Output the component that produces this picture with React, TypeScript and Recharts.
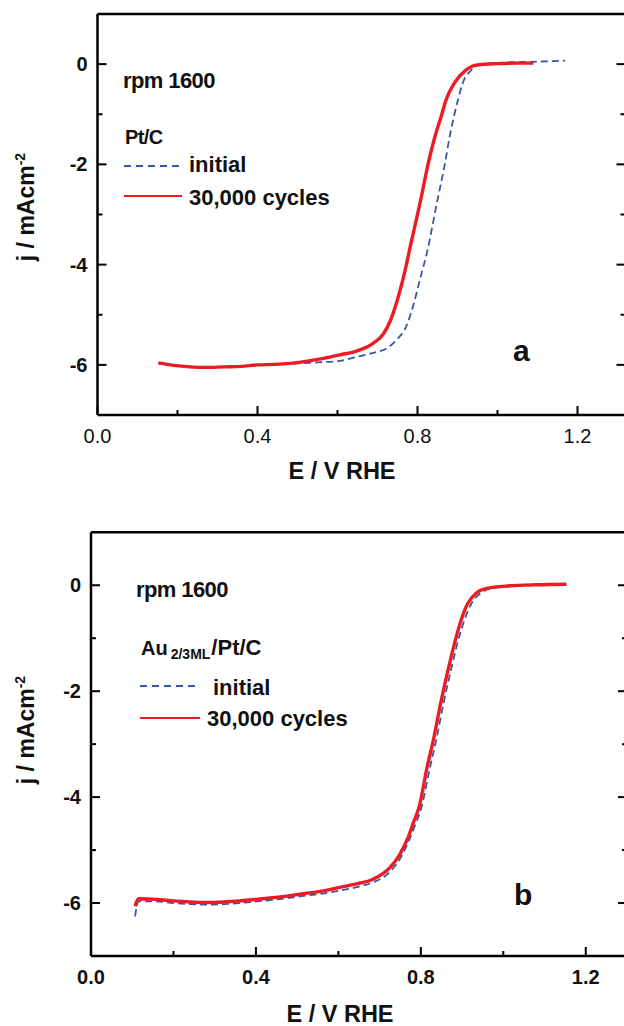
import React from 'react';
import { LineChart, Line, XAxis, YAxis, Customized } from 'recharts';

// panel a: Pt/C
const aInitialE = [0.16, 0.2, 0.25, 0.3, 0.35, 0.4, 0.45, 0.5, 0.55, 0.606, 0.649, 0.689, 0.723, 0.748, 0.773, 0.79, 0.806, 0.823, 0.85, 0.867, 0.882, 0.901, 0.913, 0.934, 0.955, 1.0, 1.05, 1.1, 1.169];
const aInitialJ = [-5.98, -6.02, -6.04, -6.04, -6.03, -6.01, -5.99, -5.97, -5.95, -5.92, -5.84, -5.76, -5.67, -5.5, -5.21, -4.8, -4.3, -3.78, -2.71, -2.05, -1.38, -0.72, -0.38, -0.12, -0.02, 0.02, 0.04, 0.05, 0.07];
const aCycledE = [0.152, 0.19, 0.231, 0.27, 0.314, 0.36, 0.398, 0.44, 0.481, 0.52, 0.565, 0.606, 0.649, 0.689, 0.715, 0.731, 0.748, 0.765, 0.783, 0.808, 0.825, 0.846, 0.859, 0.871, 0.892, 0.921, 0.946, 1.0, 1.05, 1.09];
const aCycledJ = [-5.96, -6.01, -6.04, -6.05, -6.04, -6.03, -6.0, -5.99, -5.97, -5.93, -5.87, -5.8, -5.72, -5.57, -5.38, -5.14, -4.75, -4.25, -3.6, -2.71, -2.05, -1.38, -1.05, -0.72, -0.38, -0.12, -0.02, 0.01, 0.02, 0.02];

// panel b: Au2/3ML/Pt/C
const bInitialE = [0.107, 0.115, 0.159, 0.2, 0.24, 0.28, 0.321, 0.36, 0.402, 0.44, 0.482, 0.52, 0.563, 0.6, 0.644, 0.684, 0.725, 0.749, 0.769, 0.785, 0.802, 0.821, 0.839, 0.855, 0.873, 0.893, 0.906, 0.923, 0.945, 0.97, 1.02, 1.08, 1.153];
const bInitialJ = [-6.25, -5.97, -5.97, -6.0, -6.02, -6.03, -6.02, -6.0, -5.97, -5.94, -5.9, -5.86, -5.82, -5.77, -5.7, -5.61, -5.41, -5.17, -4.86, -4.55, -4.18, -3.48, -2.86, -2.23, -1.6, -0.97, -0.65, -0.34, -0.15, -0.06, -0.02, 0.0, 0.01];
const bCycledE = [0.107, 0.115, 0.159, 0.2, 0.24, 0.28, 0.321, 0.36, 0.402, 0.44, 0.482, 0.52, 0.563, 0.6, 0.644, 0.684, 0.725, 0.749, 0.769, 0.782, 0.796, 0.814, 0.832, 0.848, 0.866, 0.886, 0.898, 0.914, 0.934, 0.959, 1.015, 1.08, 1.153];
const bCycledJ = [-6.06, -5.92, -5.93, -5.96, -5.98, -5.99, -5.98, -5.96, -5.93, -5.9, -5.86, -5.82, -5.77, -5.71, -5.64, -5.55, -5.33, -5.08, -4.76, -4.48, -4.18, -3.48, -2.86, -2.23, -1.6, -0.97, -0.65, -0.34, -0.15, -0.06, -0.01, 0.01, 0.02];

const xTicks = [0, 0.2, 0.4, 0.6, 0.8, 1.0, 1.2];
const xMajor = [0, 0.4, 0.8, 1.2];
const yTicks = [-6, -5, -4, -3, -2, -1, 0];
const yMajor = [-6, -4, -2, 0];

const FONT = '"Liberation Sans", Arial, Helvetica, sans-serif';
const RED = '#ed1c24';
const BLUE = '#3b55a5';

const zip = (e: number[], j: number[]) => e.map((v, i) => ({ e: v, j: j[i] }));

const isMajor = (list: number[], v: number) => list.some((m) => Math.abs(m - v) < 1e-6);

// inward ticks, labels only on majors
function makeTick(side: 'bottom' | 'top' | 'left' | 'right', majors: number[], labelWeight?: string) {
  return (props: any) => {
    const { x, y, payload } = props;
    const v = payload.value;
    const major = isMajor(majors, v);
    const len = major ? 9 : 5;
    let x2 = x, y2 = y;
    if (side === 'bottom') y2 = y - len;
    if (side === 'top') y2 = y + len;
    if (side === 'left') x2 = x + len;
    if (side === 'right') x2 = x - len;
    let label = null;
    if (major && side === 'bottom' && labelWeight) {
      label = (
        <text x={x} y={y + 28} textAnchor="middle" fontFamily={FONT} fontSize={20} fontWeight={labelWeight} fill="#111">
          {v.toFixed(1)}
        </text>
      );
    }
    if (major && side === 'left' && labelWeight) {
      label = (
        <text x={x - 10} y={y + 7} textAnchor="end" fontFamily={FONT} fontSize={20} fontWeight={labelWeight} fill="#111">
          {String(v)}
        </text>
      );
    }
    return (
      <g>
        <line x1={x} y1={y} x2={x2} y2={y2} stroke="#000" strokeWidth={2} />
        {label}
      </g>
    );
  };
}

interface PanelProps {
  initial: { e: number; j: number }[];
  cycled: { e: number; j: number }[];
  xMax: number;
  width: number;
  height: number;
  margin: { top: number; right: number; bottom: number; left: number };
  xLabelWeight: string;
  overlay: React.ReactNode;
}

function Panel(p: PanelProps) {
  const axisLine = { stroke: '#000', strokeWidth: 2.5 };
  return (
    <LineChart width={p.width} height={p.height} margin={p.margin}>
      <XAxis xAxisId="b" type="number" dataKey="e" domain={[0, p.xMax]} allowDataOverflow ticks={xTicks} interval={0}
        height={60} tickSize={0} tickMargin={0} tickLine={false} axisLine={axisLine} tick={makeTick('bottom', xMajor, p.xLabelWeight)} />
      <XAxis xAxisId="t" orientation="top" type="number" domain={[0, p.xMax]} allowDataOverflow ticks={xTicks.slice(1)} interval={0}
        height={4} tickSize={0} tickMargin={0} tickLine={false} axisLine={axisLine} tick={makeTick('top', xMajor)} />
      <YAxis yAxisId="l" type="number" dataKey="j" domain={[-7, 1]} allowDataOverflow ticks={yTicks} interval={0}
        width={60} tickSize={0} tickMargin={0} tickLine={false} axisLine={axisLine} tick={makeTick('left', yMajor, 'bold')} />
      <YAxis yAxisId="r" orientation="right" type="number" domain={[-7, 1]} allowDataOverflow ticks={yTicks} interval={0}
        width={10} tickSize={0} tickMargin={0} tickLine={false} axisLine={axisLine} tick={makeTick('right', yMajor)} />
      <Line xAxisId="b" yAxisId="l" data={p.initial} dataKey="j" type="monotone" stroke={BLUE} strokeWidth={1.8}
        strokeDasharray="7 4" dot={false} isAnimationActive={false} />
      <Line xAxisId="b" yAxisId="l" data={p.cycled} dataKey="j" type="monotone" stroke={RED} strokeWidth={3.4}
        dot={false} isAnimationActive={false} />
      <Customized component={() => <g>{p.overlay}</g>} />
    </LineChart>
  );
}

const txt = { fontFamily: FONT, fontWeight: 'bold' as const, fill: '#111' };

const overlayA = (
  <g>
    <text x={123} y={88} fontSize={22} {...txt} letterSpacing={-0.6}>rpm 1600</text>
    <text x={125} y={144} fontSize={20} {...txt} letterSpacing={-0.6}>Pt/C</text>
    <line x1={124} y1={166} x2={182} y2={166} stroke={BLUE} strokeWidth={1.8} strokeDasharray="7 5" />
    <text x={189} y={172} fontSize={22} {...txt}>initial</text>
    <line x1={124} y1={196} x2={182} y2={196} stroke={RED} strokeWidth={2} />
    <text x={189} y={205} fontSize={22} {...txt}>30,000 cycles</text>
    <text x={513} y={361} fontSize={30} {...txt}>a</text>
    <text x={342} y={479} fontSize={23.5} textAnchor="middle" {...txt}>E / V RHE</text>
    <text transform="translate(34,207) rotate(-90)" fontSize={23} textAnchor="middle" {...txt}>
      j / mAcm<tspan dy={-9} fontSize={14}>-2</tspan>
    </text>
  </g>
);

const overlayB = (
  <g>
    <text x={136} y={97} fontSize={22} {...txt} letterSpacing={-0.6}>rpm 1600</text>
    <text x={141} y={155} fontSize={20} {...txt}>
      Au<tspan dx={3} dy={4} fontSize={14}>2/3ML</tspan><tspan dx={1} dy={-4} fontSize={22}>/Pt/C</tspan>
    </text>
    <line x1={140} y1={186} x2={200} y2={186} stroke={BLUE} strokeWidth={1.8} strokeDasharray="7 5" />
    <text x={213} y={195} fontSize={22} {...txt}>initial</text>
    <line x1={140} y1={218} x2={200} y2={218} stroke={RED} strokeWidth={2} />
    <text x={207} y={226} fontSize={22} {...txt}>30,000 cycles</text>
    <text x={514} y={405} fontSize={30} {...txt}>b</text>
    <text x={340} y={522} fontSize={23.5} textAnchor="middle" {...txt}>E / V RHE</text>
    <text transform="translate(34,230) rotate(-90)" fontSize={23} textAnchor="middle" {...txt}>
      j / mAcm<tspan dy={-9} fontSize={14}>-2</tspan>
    </text>
  </g>
);

export default function App() {
  return (
    <div style={{ position: 'absolute', left: 0, top: 0, width: 624, height: 1026, overflow: 'hidden', background: '#fff' }}>
      <div style={{ position: 'absolute', left: 0, top: 0 }}>
        <Panel initial={zip(aInitialE, aInitialJ)} cycled={zip(aCycledE, aCycledJ)} xMax={1.32}
          width={640} height={500} margin={{ top: 10, right: 4.5, bottom: 25, left: 37.5 }}
          xLabelWeight="normal" overlay={overlayA} />
      </div>
      <div style={{ position: 'absolute', left: 0, top: 500 }}>
        <Panel initial={zip(bInitialE, bInitialJ)} cycled={zip(bCycledE, bCycledJ)} xMax={1.3}
          width={640} height={526} margin={{ top: 28.3, right: 3, bottom: 10, left: 31 }}
          xLabelWeight="bold" overlay={overlayB} />
      </div>
    </div>
  );
}
